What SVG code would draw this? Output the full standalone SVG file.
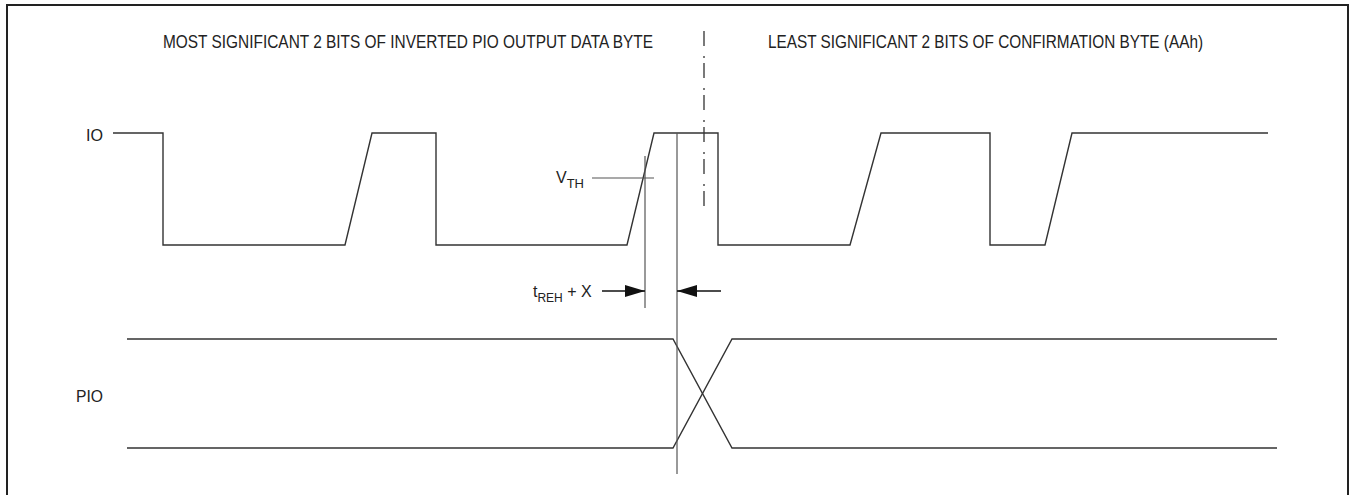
<svg xmlns="http://www.w3.org/2000/svg" width="1351" height="495" viewBox="0 0 1351 495">
<style>
.wave{fill:none;stroke:#333;stroke-width:1.4;stroke-linejoin:miter}
.thin{fill:none;stroke:#555;stroke-width:1.2}
.lbl{font-family:"Liberation Sans",Arial,sans-serif;font-size:16px;fill:#222}
.ttl{font-family:"Liberation Sans",Arial,sans-serif;font-size:18px;fill:#222}
</style>
<defs>
<marker id="ah" viewBox="0 0 20 12" refX="20" refY="6" markerWidth="20" markerHeight="12" markerUnits="userSpaceOnUse" orient="auto">
<path d="M0,0 L20,6 L0,12 Z" fill="#111"/>
</marker>
</defs>
<rect x="0" y="0" width="1351" height="495" fill="#fff"/>
<path d="M7,500 V5 H1348 V500" fill="none" stroke="#222" stroke-width="2"/>
<g id="titles">
<text class="ttl" x="163" y="48" textLength="490" lengthAdjust="spacingAndGlyphs">MOST SIGNIFICANT 2 BITS OF INVERTED PIO OUTPUT DATA BYTE</text>
<text class="ttl" x="768" y="48" textLength="435" lengthAdjust="spacingAndGlyphs">LEAST SIGNIFICANT 2 BITS OF CONFIRMATION BYTE (AAh)</text>
</g>
<g id="io">
<text class="lbl" x="86" y="141" textLength="17" lengthAdjust="spacingAndGlyphs">IO</text>
<path class="wave" d="M113,133 H163 V245 H345 L372,133 H436 V245 H627 L654,133 H718 V245 H850 L881,133 H990 V245 H1045 L1072,133 H1268"/>
</g>
<g id="pio">
<text class="lbl" x="76" y="402" textLength="27" lengthAdjust="spacingAndGlyphs">PIO</text>
<path class="wave" d="M127,339 H673 L732,448 H1277"/>
<path class="wave" d="M127,448 H673 L732,339 H1277"/>
</g>
<g id="vth">
<text class="lbl" x="556" y="183" font-size="17">V<tspan font-size="13" dy="5">TH</tspan></text>
<line class="thin" x1="592" y1="178" x2="654" y2="178"/>
</g>
<g id="connectors">
<line x1="704" y1="31" x2="704" y2="206" stroke="#333" stroke-width="1.3" stroke-dasharray="15 10 2 5"/>
<line class="thin" x1="645" y1="156" x2="645" y2="308"/>
<line class="thin" x1="677" y1="133" x2="677" y2="474"/>
<line x1="602" y1="291" x2="645" y2="291" stroke="#111" stroke-width="1.3" marker-end="url(#ah)"/>
<line x1="721" y1="291" x2="677" y2="291" stroke="#111" stroke-width="1.3" marker-end="url(#ah)"/>
</g>
<g id="treh">
<text class="lbl" x="533" y="297">t<tspan font-size="12" dy="5">REH</tspan><tspan dy="-5"> + X</tspan></text>
</g>
</svg>
